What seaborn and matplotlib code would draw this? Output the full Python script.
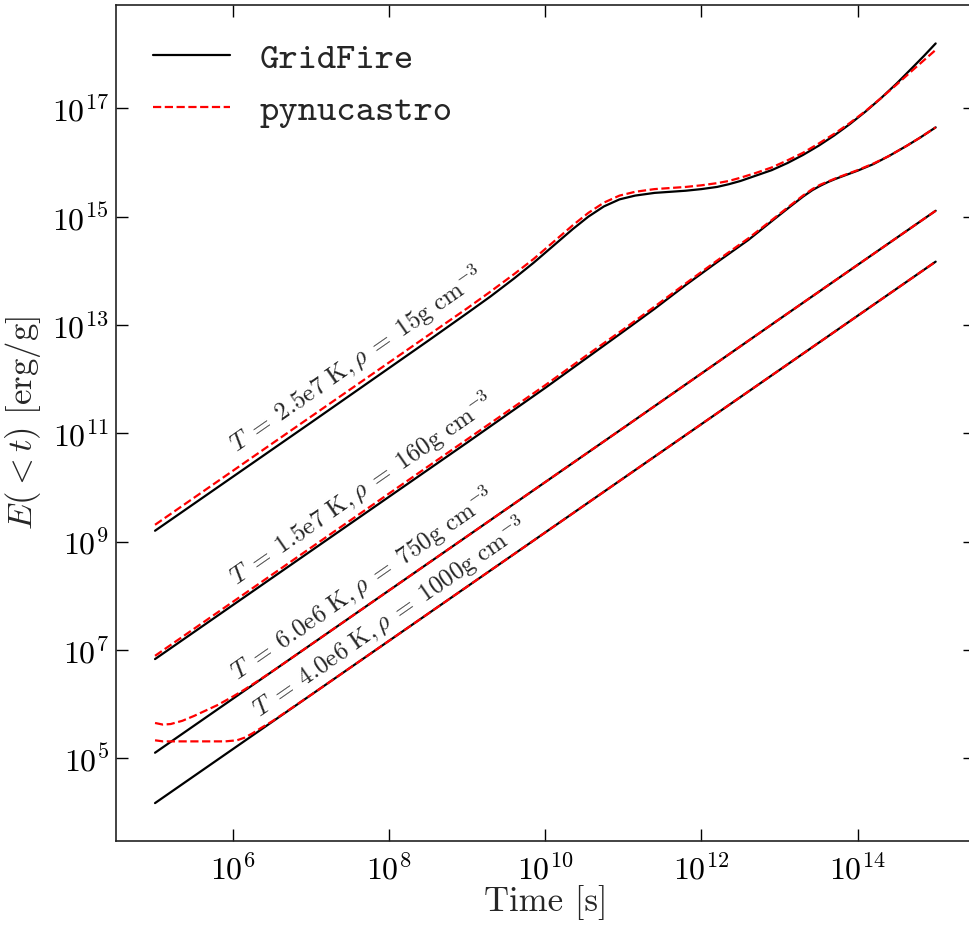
import numpy as np
import pandas as pd
import matplotlib
matplotlib.use("Agg")
import matplotlib.pyplot as plt
import seaborn as sns
from matplotlib.lines import Line2D
from matplotlib.font_manager import FontProperties
from matplotlib.ticker import NullLocator

# ---------------- data (log10 values) ----------------
# T = 2.5e7 K, rho = 15 g/cm^3
logt_a = [5.0, 7.0, 8.5, 9.0, 9.3, 9.6, 9.85, 10.1, 10.35, 10.55, 10.75, 10.95,
          11.15, 11.4, 11.6, 11.8, 12.0, 12.2, 12.35, 12.5, 12.7, 12.9, 13.1,
          13.3, 13.5, 13.7, 13.9, 14.1, 14.3, 14.5, 14.7, 14.85, 15.0]
logE_grid_a = [9.20, 11.20, 12.71, 13.22, 13.53, 13.86, 14.15, 14.46, 14.77, 15.00,
               15.19, 15.32, 15.39, 15.44, 15.46, 15.48, 15.51, 15.55, 15.60, 15.66,
               15.76, 15.86, 15.99, 16.14, 16.31, 16.50, 16.71, 16.94, 17.19, 17.46,
               17.75, 17.97, 18.20]
logE_pyna_a = [9.31, 11.31, 12.81, 13.31, 13.62, 13.94, 14.22, 14.53, 14.84, 15.07,
               15.26, 15.39, 15.46, 15.51, 15.53, 15.55, 15.58, 15.62, 15.66, 15.72,
               15.81, 15.91, 16.04, 16.18, 16.35, 16.53, 16.73, 16.95, 17.19, 17.44,
               17.70, 17.89, 18.08]

# T = 1.5e7 K, rho = 160 g/cm^3
logt_b = [5.0, 7.0, 9.0, 10.0, 10.5, 11.0, 11.4, 11.8, 12.2, 12.6, 12.92, 13.13,
          13.3, 13.42, 13.52, 13.62, 13.72, 13.85, 14.0, 14.2, 14.4, 14.63, 14.8, 15.0]
logE_grid_b = [6.83, 8.83, 10.83, 11.84, 12.36, 12.88, 13.30, 13.74, 14.16, 14.57,
               14.94, 15.18, 15.37, 15.49, 15.57, 15.64, 15.70, 15.77, 15.85, 15.97,
               16.12, 16.31, 16.46, 16.65]
logE_pyna_b = [6.89, 8.89, 10.89, 11.89, 12.41, 12.92, 13.34, 13.77, 14.19, 14.60,
               14.96, 15.20, 15.39, 15.51, 15.59, 15.65, 15.71, 15.78, 15.86, 15.98,
               16.12, 16.31, 16.46, 16.65]

# T = 6.0e6 K, rho = 750 g/cm^3
logt_c_grid = [5.0, 7.0, 9.0, 11.0, 13.0, 15.0]
logE_grid_c = [5.10, 7.10, 9.10, 11.10, 13.11, 15.11]
logt_c_pyna = [5.0, 5.1, 5.2, 5.35, 5.5, 5.65, 5.8, 6.0, 6.15, 6.3, 6.5, 7.0, 9.0,
               11.0, 13.0, 15.0]
logE_pyna_c = [5.65, 5.62, 5.63, 5.69, 5.78, 5.88, 5.98, 6.14, 6.27, 6.41, 6.60,
               7.10, 9.10, 11.10, 13.11, 15.11]

# T = 4.0e6 K, rho = 1000 g/cm^3
logt_d_grid = [5.0, 7.0, 9.0, 11.0, 13.0, 15.0]
logE_grid_d = [4.17, 6.17, 8.17, 10.17, 12.17, 14.17]
logt_d_pyna = [5.0, 5.1, 5.3, 5.6, 5.9, 6.05, 6.15, 6.25, 6.35, 6.5, 7.0, 9.0,
               11.0, 13.0, 15.0]
logE_pyna_d = [5.33, 5.31, 5.31, 5.31, 5.31, 5.33, 5.38, 5.46, 5.55, 5.68, 6.17,
               8.17, 10.17, 12.17, 14.17]

labels = [r"$T \;=\; 2.5\mathrm{e}7\ \mathrm{K}, \rho \;=\; 15\mathrm{g\ cm}^{-3}$",
          r"$T \;=\; 1.5\mathrm{e}7\ \mathrm{K}, \rho \;=\; 160\mathrm{g\ cm}^{-3}$",
          r"$T \;=\; 6.0\mathrm{e}6\ \mathrm{K}, \rho \;=\; 750\mathrm{g\ cm}^{-3}$",
          r"$T \;=\; 4.0\mathrm{e}6\ \mathrm{K}, \rho \;=\; 1000\mathrm{g\ cm}^{-3}$"]
# label anchor positions (log10 t, log10 E)
label_pos = [(7.585, 12.36), (7.655, 9.97), (7.66, 8.21), (8.01, 7.60)]

xticks = [1e6, 1e8, 1e10, 1e12, 1e14]
yticks = [1e5, 1e7, 1e9, 1e11, 1e13, 1e15, 1e17]

# ---------------- style ----------------
sns.set_style("ticks")
plt.rcParams["font.family"] = ["cmr10", "DejaVu Serif"]
plt.rcParams["mathtext.fontset"] = "cm"
plt.rcParams["axes.formatter.use_mathtext"] = True
plt.rcParams["axes.unicode_minus"] = False

fig = plt.figure(figsize=(9.69, 9.27), dpi=100)
ax = fig.add_axes([116 / 969, 86 / 927, (974.7 - 116) / 969, (841 - 5) / 927])

def pw(v):
    return 10 ** np.asarray(v, dtype=float)

grid_sets = [(logt_a, logE_grid_a), (logt_b, logE_grid_b),
             (logt_c_grid, logE_grid_c), (logt_d_grid, logE_grid_d)]
pyna_sets = [(logt_a, logE_pyna_a), (logt_b, logE_pyna_b),
             (logt_c_pyna, logE_pyna_c), (logt_d_pyna, logE_pyna_d)]

for t, e in grid_sets:
    df = pd.DataFrame({"t": pw(t), "E": pw(e)})
    sns.lineplot(data=df, x="t", y="E", ax=ax, color="black", lw=1.6,
                 estimator=None, sort=False, legend=False)
for t, e in pyna_sets:
    df = pd.DataFrame({"t": pw(t), "E": pw(e)})
    sns.lineplot(data=df, x="t", y="E", ax=ax, color="red", lw=1.6,
                 linestyle="--", estimator=None, sort=False, legend=False)

ax.set_xscale("log")
ax.set_yscale("log")
ax.set_xlim(10 ** 4.5, 10 ** 15.5)
ax.set_ylim(10 ** 3.47, 10 ** 18.91)
ax.set_xticks(xticks)
ax.set_yticks(yticks)
ax.xaxis.set_minor_locator(NullLocator())
ax.yaxis.set_minor_locator(NullLocator())
ax.tick_params(which="major", direction="in", length=8.6, width=1.0,
               top=True, right=True, labelsize=23, colors="black")
ax.tick_params(axis="x", pad=9)
ax.tick_params(axis="y", pad=5)
for s in ax.spines.values():
    s.set_linewidth(1.2)
    s.set_color("#222222")
    s.set_visible(True)

ax.set_xlabel("Time [s]", fontsize=25, labelpad=0)
ax.set_ylabel(r"$E(<t)$ [erg/g]", fontsize=25, labelpad=6)

for txt, (lx, ly) in zip(labels, label_pos):
    ax.text(10 ** lx, 10 ** ly, txt, rotation=34.8, rotation_mode="anchor",
            ha="center", va="center", fontsize=18)

handles = [Line2D([], [], color="black", lw=1.6, label="GridFire"),
           Line2D([], [], color="red", lw=1.6, ls="--", label="pynucastro")]
ax.legend(handles=handles, loc="upper left", frameon=False, borderaxespad=0.6,
          prop=FontProperties(family="cmtt10", size=26.5), handlelength=2.1)

fig.savefig("out.png", dpi=100)
